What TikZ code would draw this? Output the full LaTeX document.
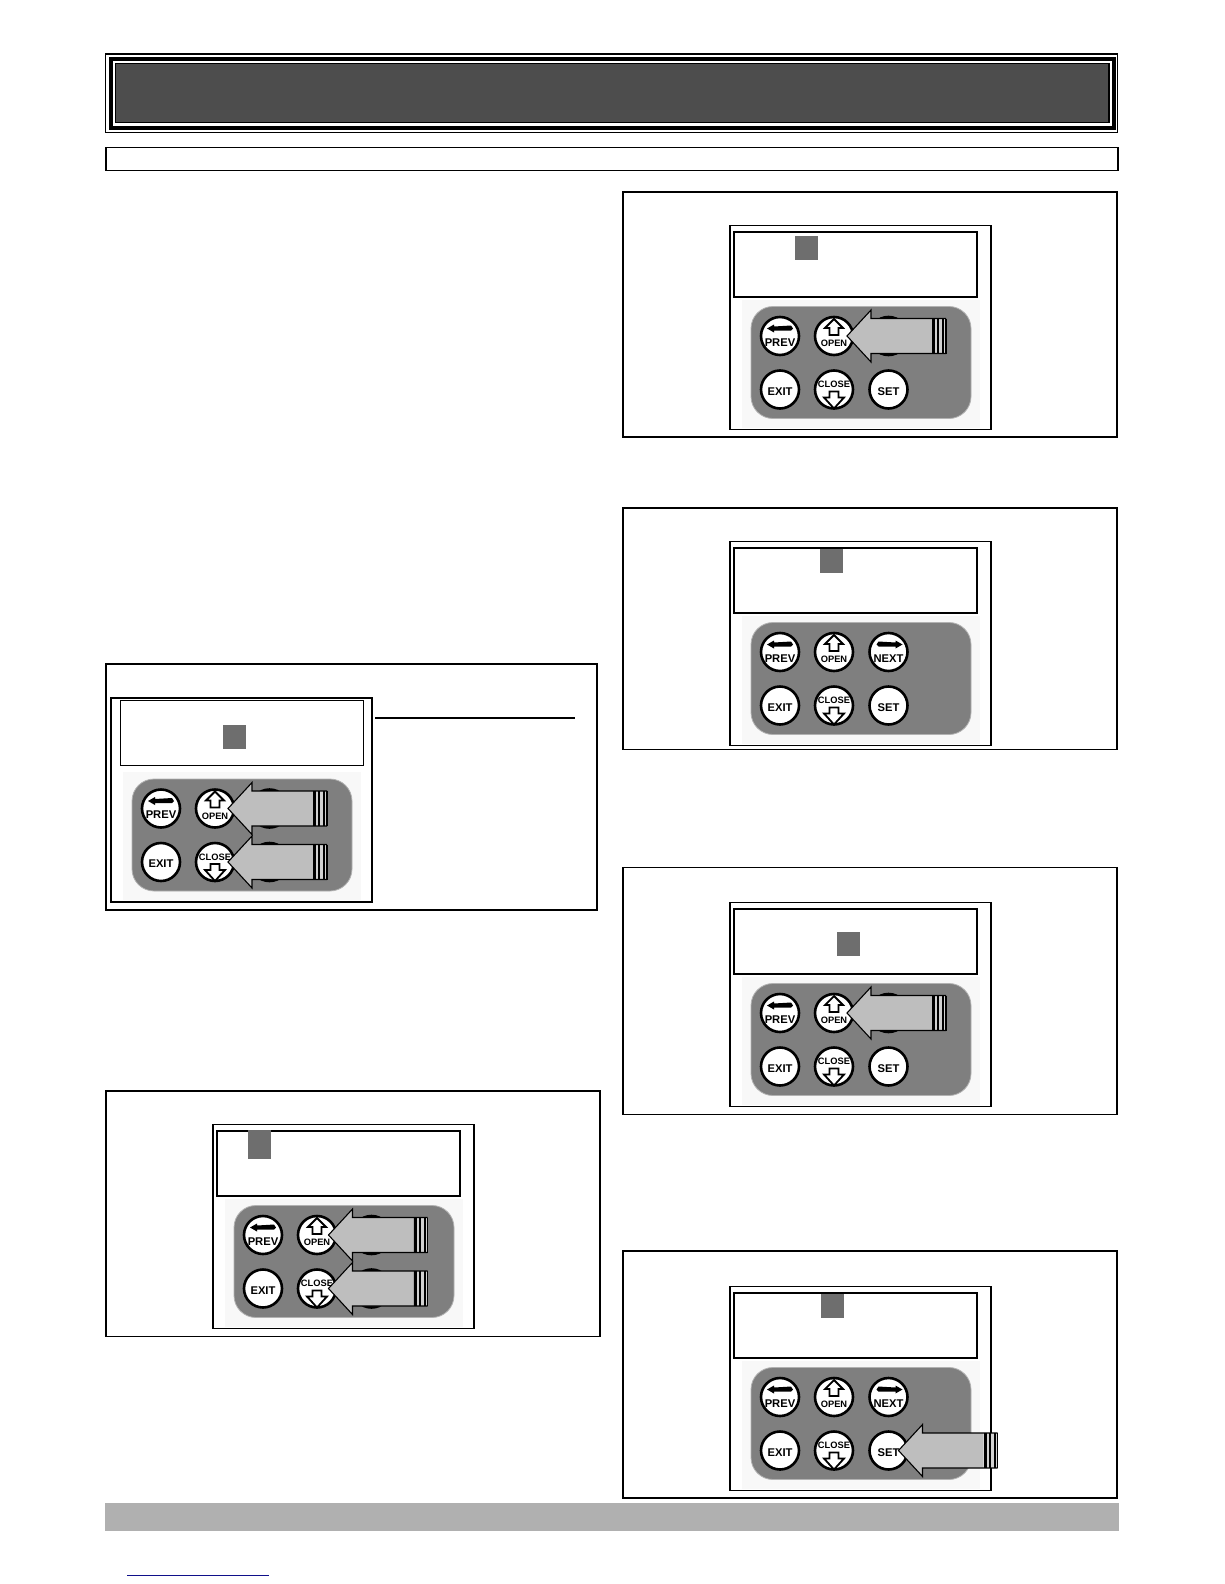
\documentclass[tikz,border=0pt]{standalone}
\usepackage{fontspec}
\setmainfont{Liberation Sans}
\usetikzlibrary{positioning}
\definecolor{headgray}{HTML}{4D4D4D}
\definecolor{footgray}{HTML}{B0B0B0}
\definecolor{padgray}{HTML}{7F7F7F}
\definecolor{squaregray}{HTML}{6E6E6E}
\definecolor{arrowgray}{HTML}{BEBEBE}
\definecolor{stripegray}{HTML}{D2D2D2}
\definecolor{padback}{HTML}{F8F8F8}
\definecolor{linkblue}{HTML}{10108A}
\tikzset{
        boxnode/.style={rectangle, anchor=north west, inner sep=0pt, outer sep=0pt},
        % Outer panels
        panel_box/.style={boxnode, draw=black, line width=1.8pt, fill=white, minimum width=494pt, minimum height=245.5pt},
        % Keypad case
        case_box/.style={boxnode, draw=black, line width=1.2pt, fill=white, minimum width=261pt, minimum height=204pt},
        % Display
        lcd_box/.style={boxnode, draw=black, line width=1.8pt, fill=white, minimum width=243pt, minimum height=65pt},
        % Cursor square
        cursor_box/.style={boxnode, fill=squaregray, minimum width=23pt, minimum height=24pt},
        % Keypad background
        pad_back/.style={boxnode, fill=padback, minimum width=238pt, minimum height=128pt},
        pad_dark/.style={boxnode, draw=white!70!black, line width=0.8pt, fill=padgray, rounded corners=22pt, minimum width=220pt, minimum height=112pt},
        % Keys
        key_node/.style={circle, draw=black, line width=2.6pt, fill=white, minimum size=38pt, inner sep=0pt},
        key_text/.style={inner sep=0pt, font=\fontsize{11.2}{12}\bfseries\selectfont},
        key_small/.style={inner sep=0pt, font=\fontsize{9.3}{10}\bfseries\selectfont},
        key_glyph/.style={draw=black, line width=1.8pt, fill=white, line join=miter}
}
% one keypad: name, x, y, display x, display y
\newcommand{\keypad}[5]{
    \begin{scope}[shift={(#2,#3)}]
        \node[case_box] (#1case) at (0,0) {};
        \draw[line width=2.6pt] (#1case.north west) -- (#1case.south west);
        \node[lcd_box] (#1lcd) at (#4,#5) {};
        \node[pad_back] (#1back) at (12,74) {};
        \node[pad_dark] (#1pad) at (21,81) {};
        \node[key_node] (#1prev) at (50,110.5) {};
        \node[key_node] (#1open) at (104,110.5) {};
        \node[key_node] (#1next) at (158.5,110.5) {};
        \node[key_node] (#1exit) at (50,164) {};
        \node[key_node] (#1close) at (104,164) {};
        \node[key_node] (#1set) at (158.5,164) {};
        \node[key_text] (#1prevtext) at ([yshift=-6.5pt]#1prev.center) {PREV};
        \node[key_small] (#1opentext) at ([yshift=-7.5pt]#1open.center) {OPEN};
        \node[key_text] (#1nexttext) at ([yshift=-6.5pt]#1next.center) {NEXT};
        \node[key_text] (#1exittext) at ([yshift=-2pt]#1exit.center) {EXIT};
        \node[key_small] (#1closetext) at ([yshift=5pt]#1close.center) {CLOSE};
        \node[key_text] (#1settext) at ([yshift=-2pt]#1set.center) {SET};
        % arrows printed on the keys
        \fill[shift={(#1prev.center)}] (-13,-7.5) -- (-6,-11.5) -- (-6,-9.5) -- (11,-10.5) -- (13,-7.5) -- (11,-5.5) -- (-6,-5.5) -- (-6,-3.5) -- cycle;
        \fill[shift={(#1next.center)}] (14,-7.5) -- (7,-11.5) -- (7,-9.5) -- (-10,-10.5) -- (-12,-7.5) -- (-10,-5.5) -- (7,-5.5) -- (7,-3.5) -- cycle;
        \draw[key_glyph, shift={(#1open.center)}] (0,-17) -- (9,-8) -- (4.5,-8) -- (4.5,-1) -- (-4.5,-1) -- (-4.5,-8) -- (-9,-8) -- cycle;
        \draw[key_glyph, shift={(#1close.center)}] (0,19) -- (10,8) -- (4.5,8) -- (4.5,2) -- (-4.5,2) -- (-4.5,8) -- (-10,8) -- cycle;
    \end{scope}
}
% grey pointer that lies on a key
\newcommand{\keypointer}[2][13]{
    \begin{scope}[shift={(#2.center)}, xshift=#1pt]
        \fill[arrowgray] (0,0) -- (24,-26) -- (24,-17.5) -- (85,-17.5) -- (85,17.5) -- (24,17.5) -- (24,26) -- cycle;
        \fill[stripegray] (85,-17.5) rectangle (99,17.5);
        \draw[line width=1.1pt] (99,-17.5) -- (24,-17.5) -- (24,-26) -- (0,0) -- (24,26) -- (24,17.5) -- (99,17.5);
        \fill (85,-17.5) rectangle (88,17.5);
        \fill (90,-17.5) rectangle (92,17.5);
        \fill (95,-17.5) rectangle (97,17.5);
        \fill (98,-17.5) rectangle (99.5,17.5);
    \end{scope}
}
\begin{document}
\begin{tikzpicture}[x=1pt, y=-1pt]
    \useasboundingbox (0,0) rectangle (1224,1584);
    % header bar
    \node[boxnode, draw=black, line width=1.5pt, minimum width=1012pt, minimum height=78.3pt] (headerouter) at (105.7,54) {};
    \node[boxnode, draw=black, line width=4.3pt, minimum width=1003.1pt, minimum height=69pt] (headerband) at (111.2,58.8) {};
    \node[boxnode, draw=black, line width=1.4pt, fill=headgray, minimum width=993.5pt, minimum height=59.1pt] (headerfill) at (115.5,63.5) {};
    \node[boxnode, draw=black, line width=1.6pt, minimum width=1012pt, minimum height=23pt] (subbar) at (105.7,147.3) {};
    % panels
    \node[panel_box, minimum width=491pt, minimum height=246pt] (panelone) at (106,664) {};
    \node[panel_box] (paneltwo) at (106,1091) {};
    \node[panel_box, minimum height=245pt] (panela) at (623,192) {};
    \node[panel_box, minimum height=241.5pt] (panelb) at (623,508) {};
    \node[panel_box, minimum height=247pt] (panelc) at (623,867.5) {};
    \node[panel_box, minimum height=247pt] (paneld) at (623,1251) {};
    % keypads
    \keypad{k1}{111}{698}{9.5}{2.5}
    \keypad{k2}{213}{1124.5}{4.3}{6.5}
    \keypad{ka}{730}{225.5}{4}{6.5}
    \keypad{kb}{730}{541.5}{4}{6.5}
    \keypad{kc}{730}{902.5}{4}{6.5}
    \keypad{kd}{730}{1286.5}{4}{6.5}
    \draw[line width=2.6pt] (k1case.north east) -- (k1case.south east);
    % cursors
    \node[cursor_box] (k1cursor) at (223,725) {};
    \node[cursor_box, minimum height=29pt] (k2cursor) at (248,1130) {};
    \node[cursor_box] (kacursor) at (795,235.5) {};
    \node[cursor_box] (kbcursor) at (820,548.5) {};
    \node[cursor_box] (kccursor) at (837,932) {};
    \node[cursor_box] (kdcursor) at (821,1294) {};
    % pointers
    \keypointer{k1open}
    \keypointer{k1close}
    \keypointer[11.5]{k2open}
    \keypointer[11.5]{k2close}
    \keypointer{kaopen}
    \keypointer{kcopen}
    \keypointer[10]{kdset}
    % rule beside the first keypad
    \coordinate (rulestart) at (375,718);
    \coordinate (ruleend) at (575,718);
    \draw[line width=1.8pt] (rulestart) -- (ruleend);
    % footer
    \node[boxnode, fill=footgray, minimum width=1014pt, minimum height=28pt] (footer) at (105,1502.5) {};
    \coordinate (linkstart) at (127,1575.5);
    \coordinate (linkend) at (269,1575.5);
    \draw[linkblue, line width=1pt] (linkstart) -- (linkend);
\end{tikzpicture}
\end{document}
